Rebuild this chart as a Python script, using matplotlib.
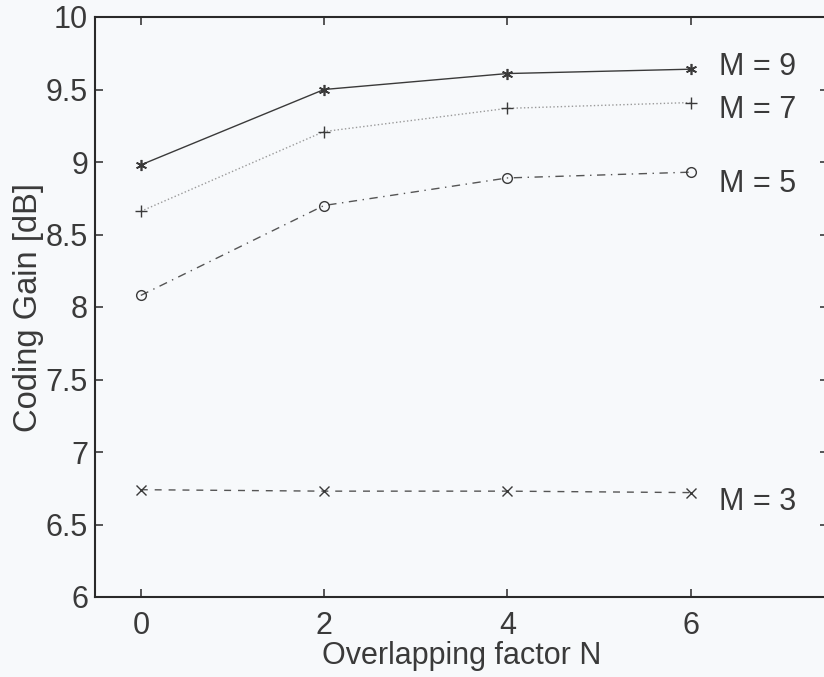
import matplotlib
matplotlib.use('Agg')
import matplotlib.pyplot as plt

# overlapping factor N
overlap_n = [0, 2, 4, 6]

# coding gain [dB] per number of bands M
gain_m9 = [8.98, 9.50, 9.61, 9.64]
gain_m7 = [8.66, 9.21, 9.37, 9.41]
gain_m5 = [8.08, 8.70, 8.89, 8.93]
gain_m3 = [6.74, 6.73, 6.73, 6.72]

curve_labels = ['M = 9', 'M = 7', 'M = 5', 'M = 3']
y_ticks = [6, 6.5, 7, 7.5, 8, 8.5, 9, 9.5, 10]
y_tick_labels = ['6', '6.5', '7', '7.5', '8', '8.5', '9', '9.5', '10']
x_ticks = [0, 2, 4, 6]

# where the curve names sit (baseline, data coords), hand placed like in the original
label_x = 6.315
label_base_y = [9.60, 9.30, 8.79, 6.60]

plt.rcParams['font.family'] = ['Liberation Sans', 'DejaVu Sans']

bg = '#f7f9fb'
ink = '#3a3a3a'
fs = 22

fig = plt.figure(figsize=(8.24, 6.77), dpi=100, facecolor=bg)
# axes box runs off the right edge of the scan
ax = fig.add_axes([95/824, 1 - 597/677, 733/824, 580/677], facecolor=bg)

ax.plot(overlap_n, gain_m9, color=ink, lw=1.0, ls='-', marker=(6, 2, 0), ms=8, mew=1.2)
ax.plot(overlap_n, gain_m7, color='#9a9a9a', lw=1.0, ls=':', marker='+', ms=8,
        mew=1.0, mec=ink)
ax.plot(overlap_n, gain_m5, color='#555555', lw=1.0, ls=(0, (6, 4, 1, 4)), marker='o',
        ms=7, mfc='none', mec=ink, mew=1.0)
ax.plot(overlap_n, gain_m3, color='#555555', lw=1.0, ls=(0, (5, 5)), marker='x', ms=7,
        mew=1.0, mec=ink)

for lab, yb in zip(curve_labels, label_base_y):
    ax.text(label_x, yb, lab, fontsize=fs, color=ink, va='baseline', ha='left')

ax.set_xlim(-0.5, 7.5)
ax.set_ylim(6, 10)
ax.set_xticks(x_ticks)
ax.set_yticks(y_ticks)
ax.set_yticklabels(y_tick_labels)
ax.tick_params(direction='in', length=6, width=1.2, colors=ink, labelsize=fs,
               top=True, right=True)
ax.tick_params(axis='x', pad=10)
ax.tick_params(axis='y', pad=5)
for s in ax.spines.values():
    s.set_linewidth(1.5)
    s.set_color('#2a2a2a')

ax.set_xlabel('Overlapping factor N', fontsize=fs, color=ink, labelpad=0)
ax.set_ylabel('Coding Gain [dB]', fontsize=23.5, color=ink, labelpad=1)

fig.savefig('out.png', dpi=100, facecolor=bg)
